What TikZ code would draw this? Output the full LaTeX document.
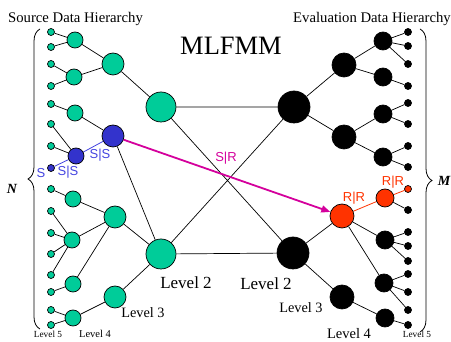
\documentclass[tikz,border=0pt]{standalone}
\usepackage{fontspec}
\setmainfont{Liberation Serif}
\newfontfamily\labfont{Liberation Sans}
\usetikzlibrary{decorations.pathreplacing,arrows.meta,backgrounds}
\definecolor{tgreen}{RGB}{0,204,153}
\definecolor{tblue}{RGB}{51,51,204}
\definecolor{tbluetext}{RGB}{68,68,224}
\definecolor{tred}{RGB}{255,51,0}
\definecolor{tmag}{RGB}{212,0,156}
\tikzset{
  dot/.style={circle,draw=black,line width=0.7pt,inner sep=0pt},
  leafG/.style={dot,fill=tgreen,minimum size=7pt},
  lfourG/.style={dot,fill=tgreen,minimum size=16pt},
  lthreeG/.style={dot,fill=tgreen,minimum size=22pt},
  ltwoG/.style={dot,fill=tgreen,minimum size=30pt},
  leafK/.style={dot,fill=black,minimum size=7pt},
  lfourK/.style={dot,fill=black,minimum size=18pt},
  lthreeK/.style={dot,fill=black,minimum size=24pt},
  ltwoK/.style={dot,fill=black,minimum size=32pt},
  edge/.style={draw=black,line width=0.7pt},
  bedge/.style={draw=tbluetext,line width=0.8pt},
  redge/.style={draw=tred,line width=0.8pt},
  txt/.style={inner sep=0pt,anchor=center},
  bracestyle/.style={draw=black,line width=0.8pt,decorate,decoration={brace,amplitude=12pt}}
}
\begin{document}
\begin{tikzpicture}[x=1pt,y=-1pt]
\useasboundingbox (0,0) rectangle (451,342);
% ---------- left tree ----------
\foreach \i/\y in {1/32,2/47,3/64,4/86,5/104,6/124,7/146,9/189,10/211,11/233,12/254,13/275,14/292,15/310,16/325}
  \node[leafG] (L\i) at (51,\y) {};
\node[leafG,fill=tblue] (L8) at (51,168) {};
\node[lfourG] (a1) at (75,40) {};
\node[lfourG] (a2) at (74,77) {};
\node[lfourG] (a3) at (75,113) {};
\node[lfourG,fill=tblue] (a4) at (76,156) {};
\node[lfourG] (a5) at (73,199) {};
\node[lfourG] (a6) at (72,240) {};
\node[lfourG] (a7) at (73,284) {};
\node[lfourG] (a8) at (73,318) {};
\node[lthreeG] (b1) at (113,64) {};
\node[lthreeG,fill=tblue] (b2) at (113,136) {};
\node[lthreeG] (b3) at (115,217) {};
\node[lthreeG] (b4) at (115,297) {};
\node[ltwoG] (c1) at (161,107) {};
\node[ltwoG] (c2) at (161,254) {};
% ---------- right tree ----------
\foreach \i/\y in {1/32,2/46,3/64,4/86,5/103,6/124,7/146,8/167,10/210,11/232,12/246,13/261,14/274,15/292,16/310,17/325}
  \node[leafK] (R\i) at (408,\y) {};
\node[leafK,fill=tred] (R9) at (408,189) {};
\node[lfourK] (d1) at (383,41) {};
\node[lfourK] (d2) at (383,77) {};
\node[lfourK] (d3) at (383,114) {};
\node[lfourK] (d4) at (383,157) {};
\node[lfourK,fill=tred] (d5) at (385,198) {};
\node[lfourK] (d6) at (385,240) {};
\node[lfourK] (d7) at (384,283) {};
\node[lfourK] (d8) at (385,318) {};
\node[lthreeK] (e1) at (344,65) {};
\node[lthreeK] (e2) at (344,137) {};
\node[lthreeK,fill=tred] (e3) at (342,216) {};
\node[lthreeK] (e4) at (342,297) {};
\node[ltwoK] (f1) at (294,107) {};
\node[ltwoK] (f2) at (293,253) {};
% ---------- connectors ----------
\begin{scope}[on background layer]
  \path[edge] (a1)--(L1) (a1)--(L2) (a2)--(L3) (a2)--(L4) (a3)--(L5)
    (a4)--(L6) (a4)--(L7) (a5)--(L9) (a6)--(L10) (a6)--(L11) (a6)--(L12) (a6)--(L13)
    (a7)--(L14) (a8)--(L15) (a8)--(L16)
    (b1)--(a1) (b1)--(a2) (b2)--(a3) (b3)--(a5) (b3)--(a6) (b3)--(a7) (b4)--(a8)
    (c1)--(b1) (c2)--(b2) (c2)--(b3) (c2)--(b4)
    (c1)--(f1) (c2)--(f2) (c1)--(f2) (c2)--(f1)
    (f1)--(e1) (f1)--(e2) (f2)--(e3) (f2)--(e4)
    (e1)--(d1) (e1)--(d2) (e2)--(d3) (e2)--(d4) (e3)--(d6) (e3)--(d7) (e4)--(d8)
    (d1)--(R1) (d1)--(R2) (d1)--(R3) (d2)--(R4) (d3)--(R5) (d3)--(R6)
    (d4)--(R7) (d4)--(R8) (d5)--(R10) (d6)--(R11) (d6)--(R12) (d6)--(R13)
    (d7)--(R14) (d7)--(R15) (d7)--(R16) (d8)--(R17);
  \path[bedge] (L8)--(a4) (a4)--(b2);
  \path[redge] (e3)--(d5) (d5)--(R9);
\end{scope}
\draw[tmag,line width=1.8pt,-{Triangle[length=9pt,width=7pt]}] (b2) -- (e3);
% ---------- braces ----------
\coordinate (lbB) at (40,329);
\coordinate (lbT) at (40,29);
\coordinate (rbT) at (420,29);
\coordinate (rbB) at (420,332);
\draw[bracestyle] (lbB) -- (lbT);
\draw[bracestyle] (rbT) -- (rbB);
% ---------- texts ----------
\node[txt] (t1) at (75.5,17) {\fontsize{14.7}{16}\selectfont Source Data Hierarch\smash{y}};
\node[txt] (t2) at (372,17) {\fontsize{14.7}{16}\selectfont Evaluation Data Hierarch\smash{y}};
\node[txt] (t3) at (231,46) {\fontsize{26.5}{28}\selectfont MLFMM};
\node[txt] (tN) at (12,189) {\fontsize{14}{16}\selectfont\bfseries\itshape N};
\node[txt] (tM) at (444,181) {\fontsize{14}{16}\selectfont\bfseries\itshape M};
\node[txt] (lv2a) at (186,283) {\fontsize{17}{18}\selectfont Level 2};
\node[txt] (lv2b) at (266,284) {\fontsize{17}{18}\selectfont Level 2};
\node[txt] (lv3a) at (143,313) {\fontsize{14.3}{16}\selectfont Level 3};
\node[txt] (lv3b) at (301,308) {\fontsize{14.3}{16}\selectfont Level 3};
\node[txt] (lv4b) at (349,334) {\fontsize{14.5}{16}\selectfont Level 4};
\node[txt] (lv4a) at (95,334) {\fontsize{10.5}{12}\selectfont Level 4};
\node[txt] (lv5a) at (48,334) {\fontsize{9.3}{11}\selectfont Level 5};
\node[txt] (lv5b) at (417,334) {\fontsize{9.3}{11}\selectfont Level 5};
\node[txt,text=tbluetext] (sS) at (41,173) {\labfont\fontsize{13}{14}\selectfont S};
\node[txt,text=tbluetext] (sSS1) at (68,172) {\labfont\fontsize{13}{14}\selectfont S|S};
\node[txt,text=tbluetext] (sSS2) at (100,155) {\labfont\fontsize{13}{14}\selectfont S|S};
\node[txt,text=tmag] (sSR) at (226,158) {\labfont\fontsize{13}{14}\selectfont S|R};
\node[txt,text=tred] (rRR1) at (354,198) {\labfont\fontsize{13}{14}\selectfont R|R};
\node[txt,text=tred] (rRR2) at (393,182) {\labfont\fontsize{13}{14}\selectfont R|R};
\end{tikzpicture}
\end{document}
